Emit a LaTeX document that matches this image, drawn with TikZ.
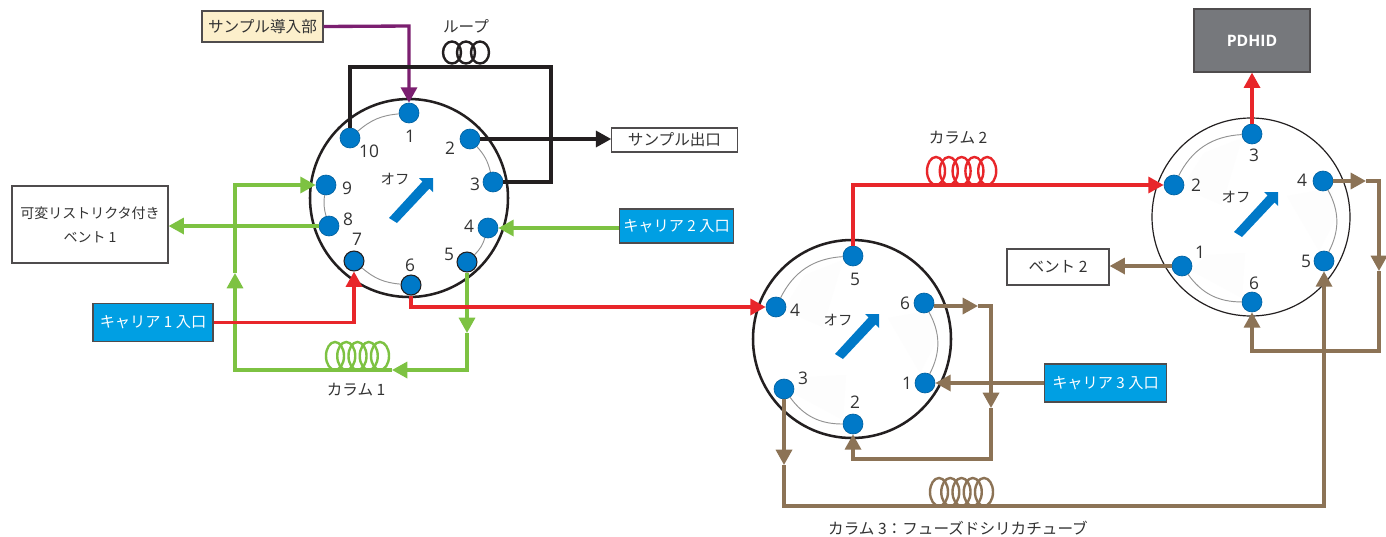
\documentclass[tikz,border=0pt]{standalone}
\usepackage{fontspec}
\setmainfont{Noto Sans CJK JP}
\newfontfamily\latin{Open Sans}
\usetikzlibrary{arrows.meta}
\definecolor{pblue}{HTML}{0079C8}
\definecolor{cblue}{HTML}{009FE3}
\definecolor{cred}{HTML}{E8262A}
\definecolor{cgreen}{HTML}{7DC242}
\definecolor{cbrown}{HTML}{8C7356}
\definecolor{cpurple}{HTML}{7B1F70}
\definecolor{cblack}{HTML}{231F20}
\definecolor{ctext}{HTML}{333333}
\definecolor{cgrey}{HTML}{76787C}
\definecolor{csand}{HTML}{FCEFCB}
\definecolor{cfaint}{HTML}{FDFDFD}
\tikzset{
  every node/.style={font=\fontsize{11.7pt}{14pt}\selectfont, text=ctext, inner sep=0pt},
  port/.style={circle, minimum size=15pt, fill=pblue, draw=pblue!80!black, line width=.5pt},
  darkport/.style={port, draw=cblack, line width=.8pt},
  plabel/.style={font=\latin\fontsize{13pt}{15pt}\selectfont},
  offlabel/.style={font=\fontsize{10.8pt}{13pt}\selectfont},
  box/.style={draw=cblack!80, line width=.9pt, fill=white, align=center},
  carrier/.style={box, fill=cblue, text=white, font=\fontsize{11.4pt}{14pt}\selectfont},
  ring/.style={draw=cblack, line width=1.9pt},
  thinring/.style={draw=cblack, line width=.9pt},
  joint/.style={draw=gray!85, line width=.7pt},
  pipe/.style={line width=2.5pt, line join=miter},
  tip/.style={-{Triangle[length=11.5pt,width=12pt]}},
  redpipe/.style={pipe, draw=cred},
  greenpipe/.style={pipe, draw=cgreen},
  brownpipe/.style={pipe, draw=cbrown},
  blackpipe/.style={pipe, draw=cblack},
}
\newcommand{\offarrow}[1]{\fill[pblue, shift={(#1)}] (0,0) -- (0,14) -- (-3.5,10.5) -- (-36,45) -- (-44,40) -- (-10.5,3.5) -- (-14,0) -- cycle;}
\newcommand{\coil}[6]{% colour, width, first centre x, spacing, count-1, base y
  \foreach \k in {0,...,#5}{\draw[#1, line width=#2] ({#3+\k*#4},#6-14) ellipse [x radius=9, y radius=14];}}
\newcommand{\wedges}[1]{\begin{scope}[shift={(#1)}]
  \fill[cfaint] (843,260) -- (823,327) -- (783,310) -- (805,275) -- cycle;
  \fill[cfaint] (933,310) -- (888,318) -- (920,373) -- (937,340) -- cycle;
  \fill[cfaint] (793,393) -- (807,377) -- (846,375) -- (843,420) -- cycle;
\end{scope}}
\begin{document}
\begin{tikzpicture}[x=.75pt,y=-.75pt]
\useasboundingbox (0,0) rectangle (1386,536);
\fill[white] (0,0) rectangle (1386,536);
% rotors
\node[circle, ring, fill=white, minimum size=148.5pt] (v1) at (409,198) {};
\node[circle, ring, fill=white, minimum size=148.5pt] (v2) at (852,339) {};
\node[circle, thinring, fill=white, minimum size=148.5pt] (v3) at (1251,217) {};
\wedges{0,0}
\wedges{399,-122}
% ports: valve 1
\node[port] (a1) at (409,113) {};
\node[port] (a2) at (470,139) {};
\node[port] (a3) at (493,182) {};
\node[port] (a4) at (488,228) {};
\node[darkport] (a5) at (467,262) {};
\node[darkport] (a6) at (411,285) {};
\node[darkport] (a7) at (354,261) {};
\node[port] (a8) at (329,226) {};
\node[port] (a9) at (326,185) {};
\node[port] (a10) at (350,138) {};
% ports: valve 2
\node[port] (b1) at (925,383) {};
\node[port] (b2) at (853,424) {};
\node[port] (b3) at (784,389) {};
\node[port] (b4) at (776,307) {};
\node[port] (b5) at (853,256) {};
\node[port] (b6) at (924,303) {};
% ports: valve 3
\node[port] (c1) at (1182,266) {};
\node[port] (c2) at (1174,185) {};
\node[port] (c3) at (1252,134) {};
\node[port] (c4) at (1323,181) {};
\node[port] (c5) at (1324,261) {};
\node[port] (c6) at (1252,302) {};
% joints
\draw[joint] (a10) to[bend left=18] (a1);
\draw[joint] (a2) to[bend left=14] (a3);
\draw[joint] (a4) to[bend left=14] (a5);
\draw[joint] (a6) to[bend left=18] (a7);
\draw[joint] (a8) to[bend left=12] (a9);
\draw[joint] (b4) to[bend left=30] (b5);
\draw[joint] (b6) to[bend left=28] (b1);
\draw[joint] (b2) to[bend left=27] (b3);
\draw[joint] (c2) to[bend left=30] (c3);
\draw[joint] (c4) to[bend left=28] (c5);
\draw[joint] (c6) to[bend left=27] (c1);
% port labels
\foreach \n/\x/\y/\t in {la1/410/136/1,la2/450/148/2,la3/475/184/3,la4/469/226/4,la5/449/254/5,la6/410/265/6,la7/357/239/7,la8/348/219/8,la9/347/188/9,la10/369/151/10,
 lb1/907/383/1,lb2/855/402/2,lb3/803/378/3,lb4/795/310/4,lb5/855/279/5,lb6/905/303/6,
 lc1/1200/252/1,lc2/1196/185/2,lc3/1254/155/3,lc4/1302/180/4,lc5/1306/261/5,lc6/1254/283/6}
  {\node[plabel] (\n) at (\x,\y) {\t};}
\node[offlabel] (o1) at (395,179) {オフ};
\node[offlabel] (o2) at (838,320) {オフ};
\node[offlabel] (o3) at (1236,197) {オフ};
\offarrow{433,178}
\offarrow{879,314}
\offarrow{1278,192}
% boxes
\node[box, fill=csand, minimum width=90.75pt, minimum height=23.25pt] (inj) at (262.5,26.5) {サンプル導入部};
\node[box, minimum width=94pt, minimum height=18pt] (out) at (674.5,140) {サンプル出口};
\node[box, minimum width=117pt, minimum height=57.75pt, font=\fontsize{10.5pt}{18pt}\selectfont] (vent1) at (90,224.5) {可変リストリクタ付き\\ベント 1};
\node[carrier, minimum width=90pt, minimum height=29pt] (car1) at (153,322.5) {キャリア 1 入口};
\node[carrier, minimum width=86pt, minimum height=25.5pt] (car2) at (676.5,226) {キャリア 2 入口};
\node[carrier, minimum width=91pt, minimum height=28.5pt] (car3) at (1105.5,383) {キャリア 3 入口};
\node[box, minimum width=76.5pt, minimum height=27pt] (vent2) at (1058,267) {ベント 2};
\node[box, fill=cgrey, minimum width=87pt, minimum height=47.25pt, text=white, font=\latin\fontsize{11.8pt}{14pt}\selectfont\bfseries] (det) at (1252,40.5) {PDHID};
% text labels
\node (tloop) at (466,26) {ループ};
\node (tc1) at (356,390) {カラム 1};
\node (tc2) at (958,138) {カラム 2};
\node (tc3) at (958,528) {カラム 3：フューズドシリカチューブ};
% coils
\foreach \k in {0,1,2}{\draw[cblack, line width=1.8pt] ({452+\k*14},52.5) ellipse [x radius=9, y radius=11];}
\coil{cgreen}{1.8pt}{335}{11.25}{4}{370}
\coil{cred}{1.8pt}{936}{12.8}{4}{185}
\coil{cbrown}{1.8pt}{939}{11.25}{4}{506}
% coordinates
\coordinate (k2) at (350,67);
\coordinate (k3) at (551,67);
\coordinate (k4) at (551,182);
\coordinate (g1) at (467,333);
\coordinate (g2) at (467,370);
\coordinate (g3) at (392,370);
\coordinate (g4) at (235,370);
\coordinate (g5) at (235,273);
\coordinate (g6) at (235,185);
\coordinate (w1) at (978,306);
\coordinate (w2) at (991,306);
\coordinate (w3) at (991,408);
\coordinate (w4) at (991,459);
\coordinate (w5) at (853,459);
\coordinate (u1) at (784,465);
\coordinate (u2) at (784,506);
\coordinate (u3) at (1324,506);
\coordinate (y1) at (1366,181);
\coordinate (y2) at (1379,181);
\coordinate (y3) at (1379,271);
\coordinate (y4) at (1379,351);
\coordinate (y5) at (1252,351);
% sample in
\draw[pipe, draw=cpurple, tip] (inj.east) -- (409,26) -- (a1.north);
% loop
\draw[blackpipe, line width=2.7pt] (a10.north) -- (k2) -- (k3) -- (k4) -- (a3.east);
\draw[blackpipe, tip] (a2.east) -- (out.west |- a2);
% green
\draw[greenpipe, tip] (a8.west) -- (vent1.east |- a8);
\draw[greenpipe, tip] (car2.west |- a4) -- (a4.east);
\draw[greenpipe, tip] (a5.south) -- (g1);
\draw[greenpipe, tip] (g1) -- (g2) -- (g3);
\draw[greenpipe, tip] (g3) -- (g4) -- (g5);
\draw[greenpipe, tip] (g5) -- (g6) -- (a9.west);
% red
\draw[redpipe, tip] (car1.east) -| (a7.south);
\draw[redpipe, tip] (a6.south) |- (b4.west);
\draw[redpipe, tip] (b5.north) |- (c2.west);
\draw[redpipe, tip] (c3.north) -- (det.south);
% brown
\draw[brownpipe, tip] (car3.west) -- (b1.east);
\draw[brownpipe, tip] (b6.east) ++(0,3) -- (w1);
\draw[brownpipe, tip] (w1) -- (w2) -- (w3);
\draw[brownpipe, tip] (w3) -- (w4) -- (w5) -- (b2.south);
\draw[brownpipe, tip] (b3.south) -- (u1);
\draw[brownpipe, tip] (u1) -- (u2) -- (u3) -- (c5.south);
\draw[brownpipe, tip] (c1.west) -- (vent2.east |- c1);
\draw[brownpipe, tip] (c4.east) -- (y1);
\draw[brownpipe, tip] (y1) -- (y2) -- (y3);
\draw[brownpipe, tip] (y3) -- (y4) -- (y5) -- (c6.south);
\end{tikzpicture}
\end{document}
